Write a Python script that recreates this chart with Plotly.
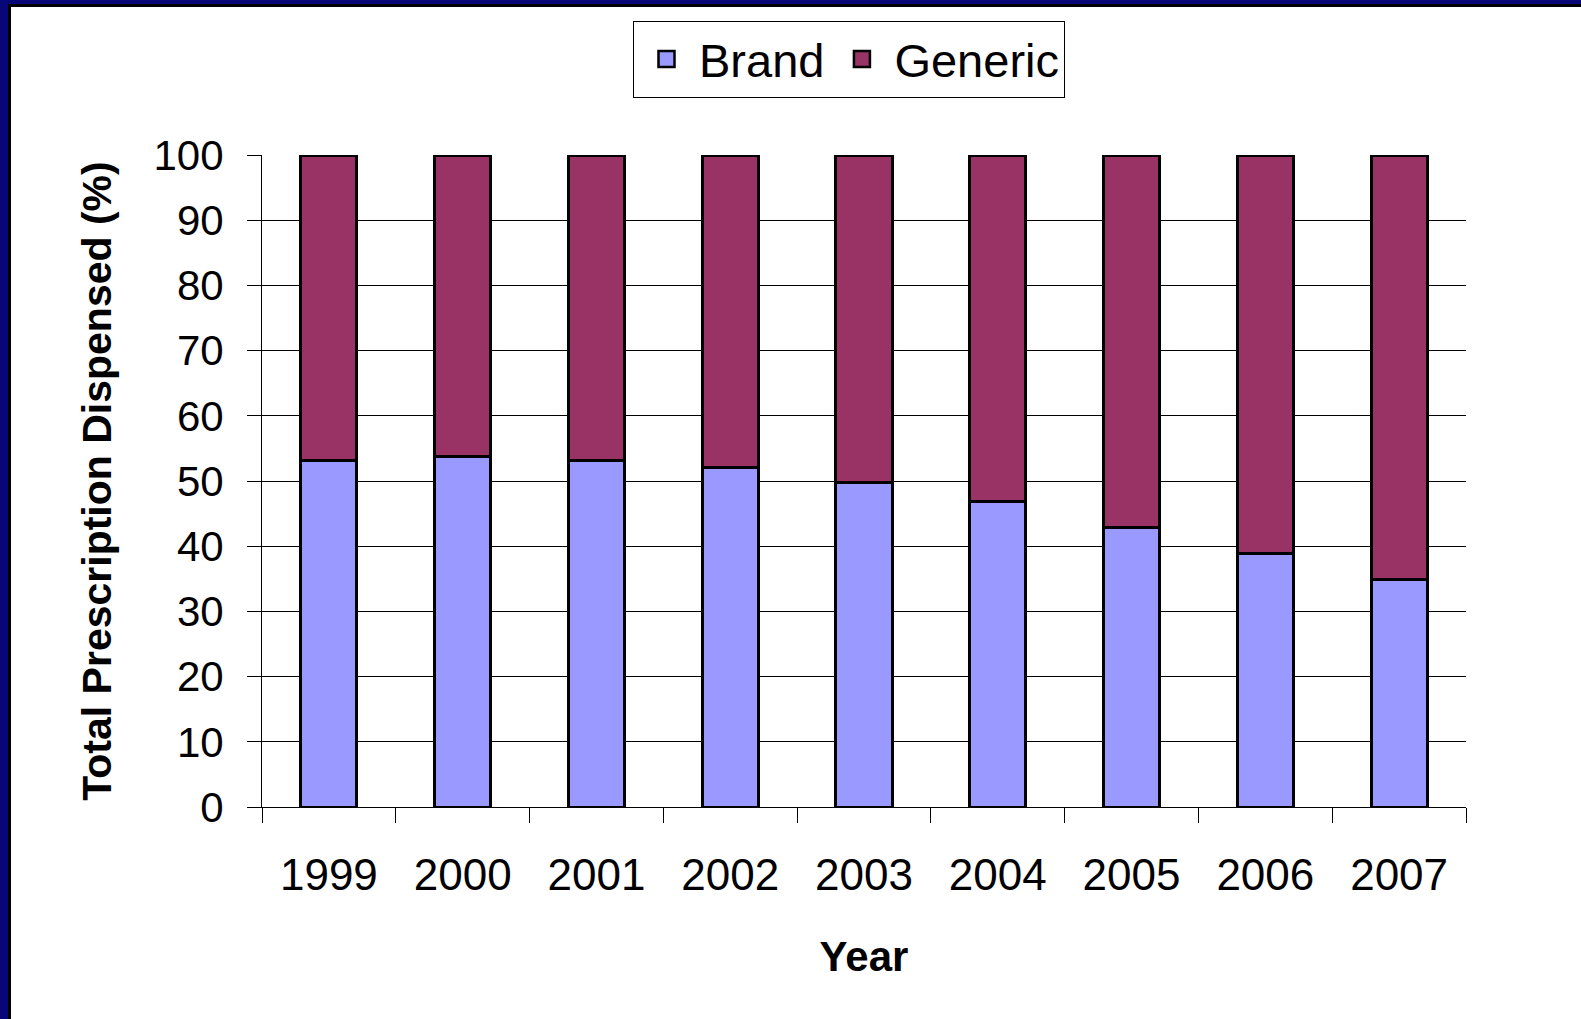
import plotly.graph_objects as go

years = ["1999", "2000", "2001", "2002", "2003", "2004", "2005", "2006", "2007"]
brand = [53.2, 53.8, 53.2, 52.1, 49.7, 46.8, 42.9, 38.9, 34.9]
generic = [46.8, 46.2, 46.8, 47.9, 50.3, 53.2, 57.1, 61.1, 65.1]

W, H = 1581, 1019
ML, MR, MT, MB = 262, 115, 155, 212
PW, PH = W - ML - MR, H - MT - MB

FONT = "Liberation Sans, Arial, sans-serif"
BRAND_C, GENERIC_C = "#9999ff", "#993366"

fig = go.Figure()
fig.add_trace(go.Bar(x=years, y=brand, name="Brand", showlegend=False,
                     marker=dict(color=BRAND_C, line=dict(color="black", width=3)),
                     width=0.42))
fig.add_trace(go.Bar(x=years, y=generic, name="Generic", showlegend=False,
                     marker=dict(color=GENERIC_C, line=dict(color="black", width=3)),
                     width=0.42))
# legend entries (no data drawn)
for nm, c in (("Brand", BRAND_C), ("Generic", GENERIC_C)):
    fig.add_trace(go.Scatter(x=[None], y=[None], mode="markers", name=nm,
                             marker=dict(symbol="square", size=22, color=c,
                                         line=dict(color="black", width=2.5))))

def px_x(p):
    return (p - ML) / PW

def px_y(p):
    return (H - MB - p) / PH

navy = "#07077a"
shapes = [
    dict(type="rect", xref="paper", yref="paper", x0=px_x(0), x1=px_x(W), y0=px_y(0), y1=px_y(4),
         fillcolor=navy, line=dict(width=0), layer="above"),
    dict(type="rect", xref="paper", yref="paper", x0=px_x(0), x1=px_x(W), y0=px_y(4), y1=px_y(7),
         fillcolor="black", line=dict(width=0), layer="above"),
    dict(type="rect", xref="paper", yref="paper", x0=px_x(0), x1=px_x(8), y0=px_y(0), y1=px_y(H),
         fillcolor=navy, line=dict(width=0), layer="above"),
    dict(type="rect", xref="paper", yref="paper", x0=px_x(8), x1=px_x(11), y0=px_y(4), y1=px_y(H),
         fillcolor="black", line=dict(width=0), layer="above"),
]

fig.update_layout(
    width=W, height=H,
    margin=dict(l=ML, r=MR, t=MT, b=MB, pad=0),
    paper_bgcolor="white", plot_bgcolor="white",
    barmode="stack", bargap=0.58,
    font=dict(family=FONT, color="black"),
    shapes=shapes,
    showlegend=True,
    legend=dict(orientation="h", x=px_x(849), xanchor="center", y=px_y(21), yanchor="top",
                bordercolor="black", borderwidth=1, bgcolor="white",
                font=dict(size=47, family=FONT), traceorder="normal",
                itemsizing="trace", itemwidth=55),
    xaxis=dict(type="category", showline=True, linecolor="black", linewidth=1,
               ticks="outside", tickson="boundaries", ticklen=15, tickcolor="black",
               showgrid=False, tickfont=dict(size=44, family=FONT),
               ticklabelstandoff=29,
               title=dict(text="<b>Year</b>", font=dict(size=42, family=FONT), standoff=43)),
    yaxis=dict(range=[0, 100], tickvals=list(range(0, 101, 10)), showline=True,
               linecolor="black", linewidth=1, ticks="outside", ticklen=14, tickcolor="black",
               showgrid=True, gridcolor="black", gridwidth=1, zeroline=False,
               tickfont=dict(size=42, family=FONT), ticklabelstandoff=15,
               title=dict(text="<b>Total Prescription Dispensed (%)</b>",
                          font=dict(size=41, family=FONT), standoff=29)),
)

fig.write_html("out.html", config={"displayModeBar": False},
               post_script="document.body.style.margin='0';document.body.style.overflow='hidden';")
